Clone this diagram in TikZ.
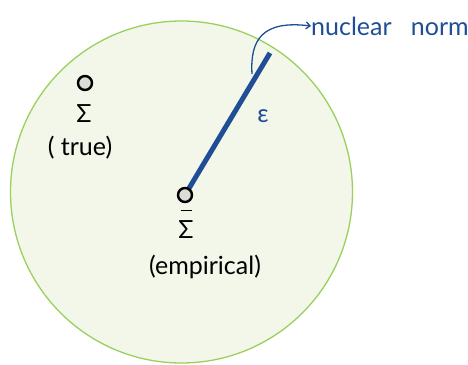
\documentclass[tikz,border=0pt]{standalone}
\usepackage{fontspec}
\setmainfont{Lato}
\usetikzlibrary{arrows.meta}
\definecolor{ballfill}{HTML}{F3F7EA}
\definecolor{balledge}{HTML}{9BCF5E}
\definecolor{penblue}{HTML}{1F4E96}
\definecolor{dotfill}{HTML}{DCDDD6}
\tikzset{
  pt/.style={circle, draw=black, line width=2.4pt, fill=dotfill, minimum size=14pt, inner sep=0pt},
  hand/.style={font=\fontsize{25}{28}\selectfont, inner sep=0pt},
  bluehand/.style={hand, text=penblue},
}
\begin{document}
\begin{tikzpicture}[x=1pt,y=-1pt]
\useasboundingbox (0,0) rectangle (468,364);
\node (ball) [circle, draw=balledge, fill=ballfill, line width=1.3pt, minimum size=342pt, inner sep=0pt] at (181.5,192) {};
\coordinate (empc) at (185,195);
\coordinate (tip) at (270,53);
\draw[penblue, line width=5pt] (empc) -- (tip);
\node (emp) [pt] at (empc) {};
\node (tru) [pt] at (85,83) {};
\node (sigt) [hand] at (84,114) {Σ};
\node (truel) [hand] at (80,148) {( true)};
\node (sige) [hand, align=center] at (186,224) {\rule{11pt}{1.6pt}\\[-1pt]Σ};
\node (empl) [hand] at (205,267) {(empirical)};
\node (eps) [bluehand] at (263,116) {ε};
\node (nn) [bluehand, anchor=west] at (311,26) {nuclear\ \ \ norm};
\coordinate (hook) at (252,74);
\draw[penblue, line width=1.3pt, -{Straight Barb[length=4pt,width=7pt]}] (hook) .. controls (250,40) and (262,20) .. (nn.west);
\end{tikzpicture}
\end{document}
